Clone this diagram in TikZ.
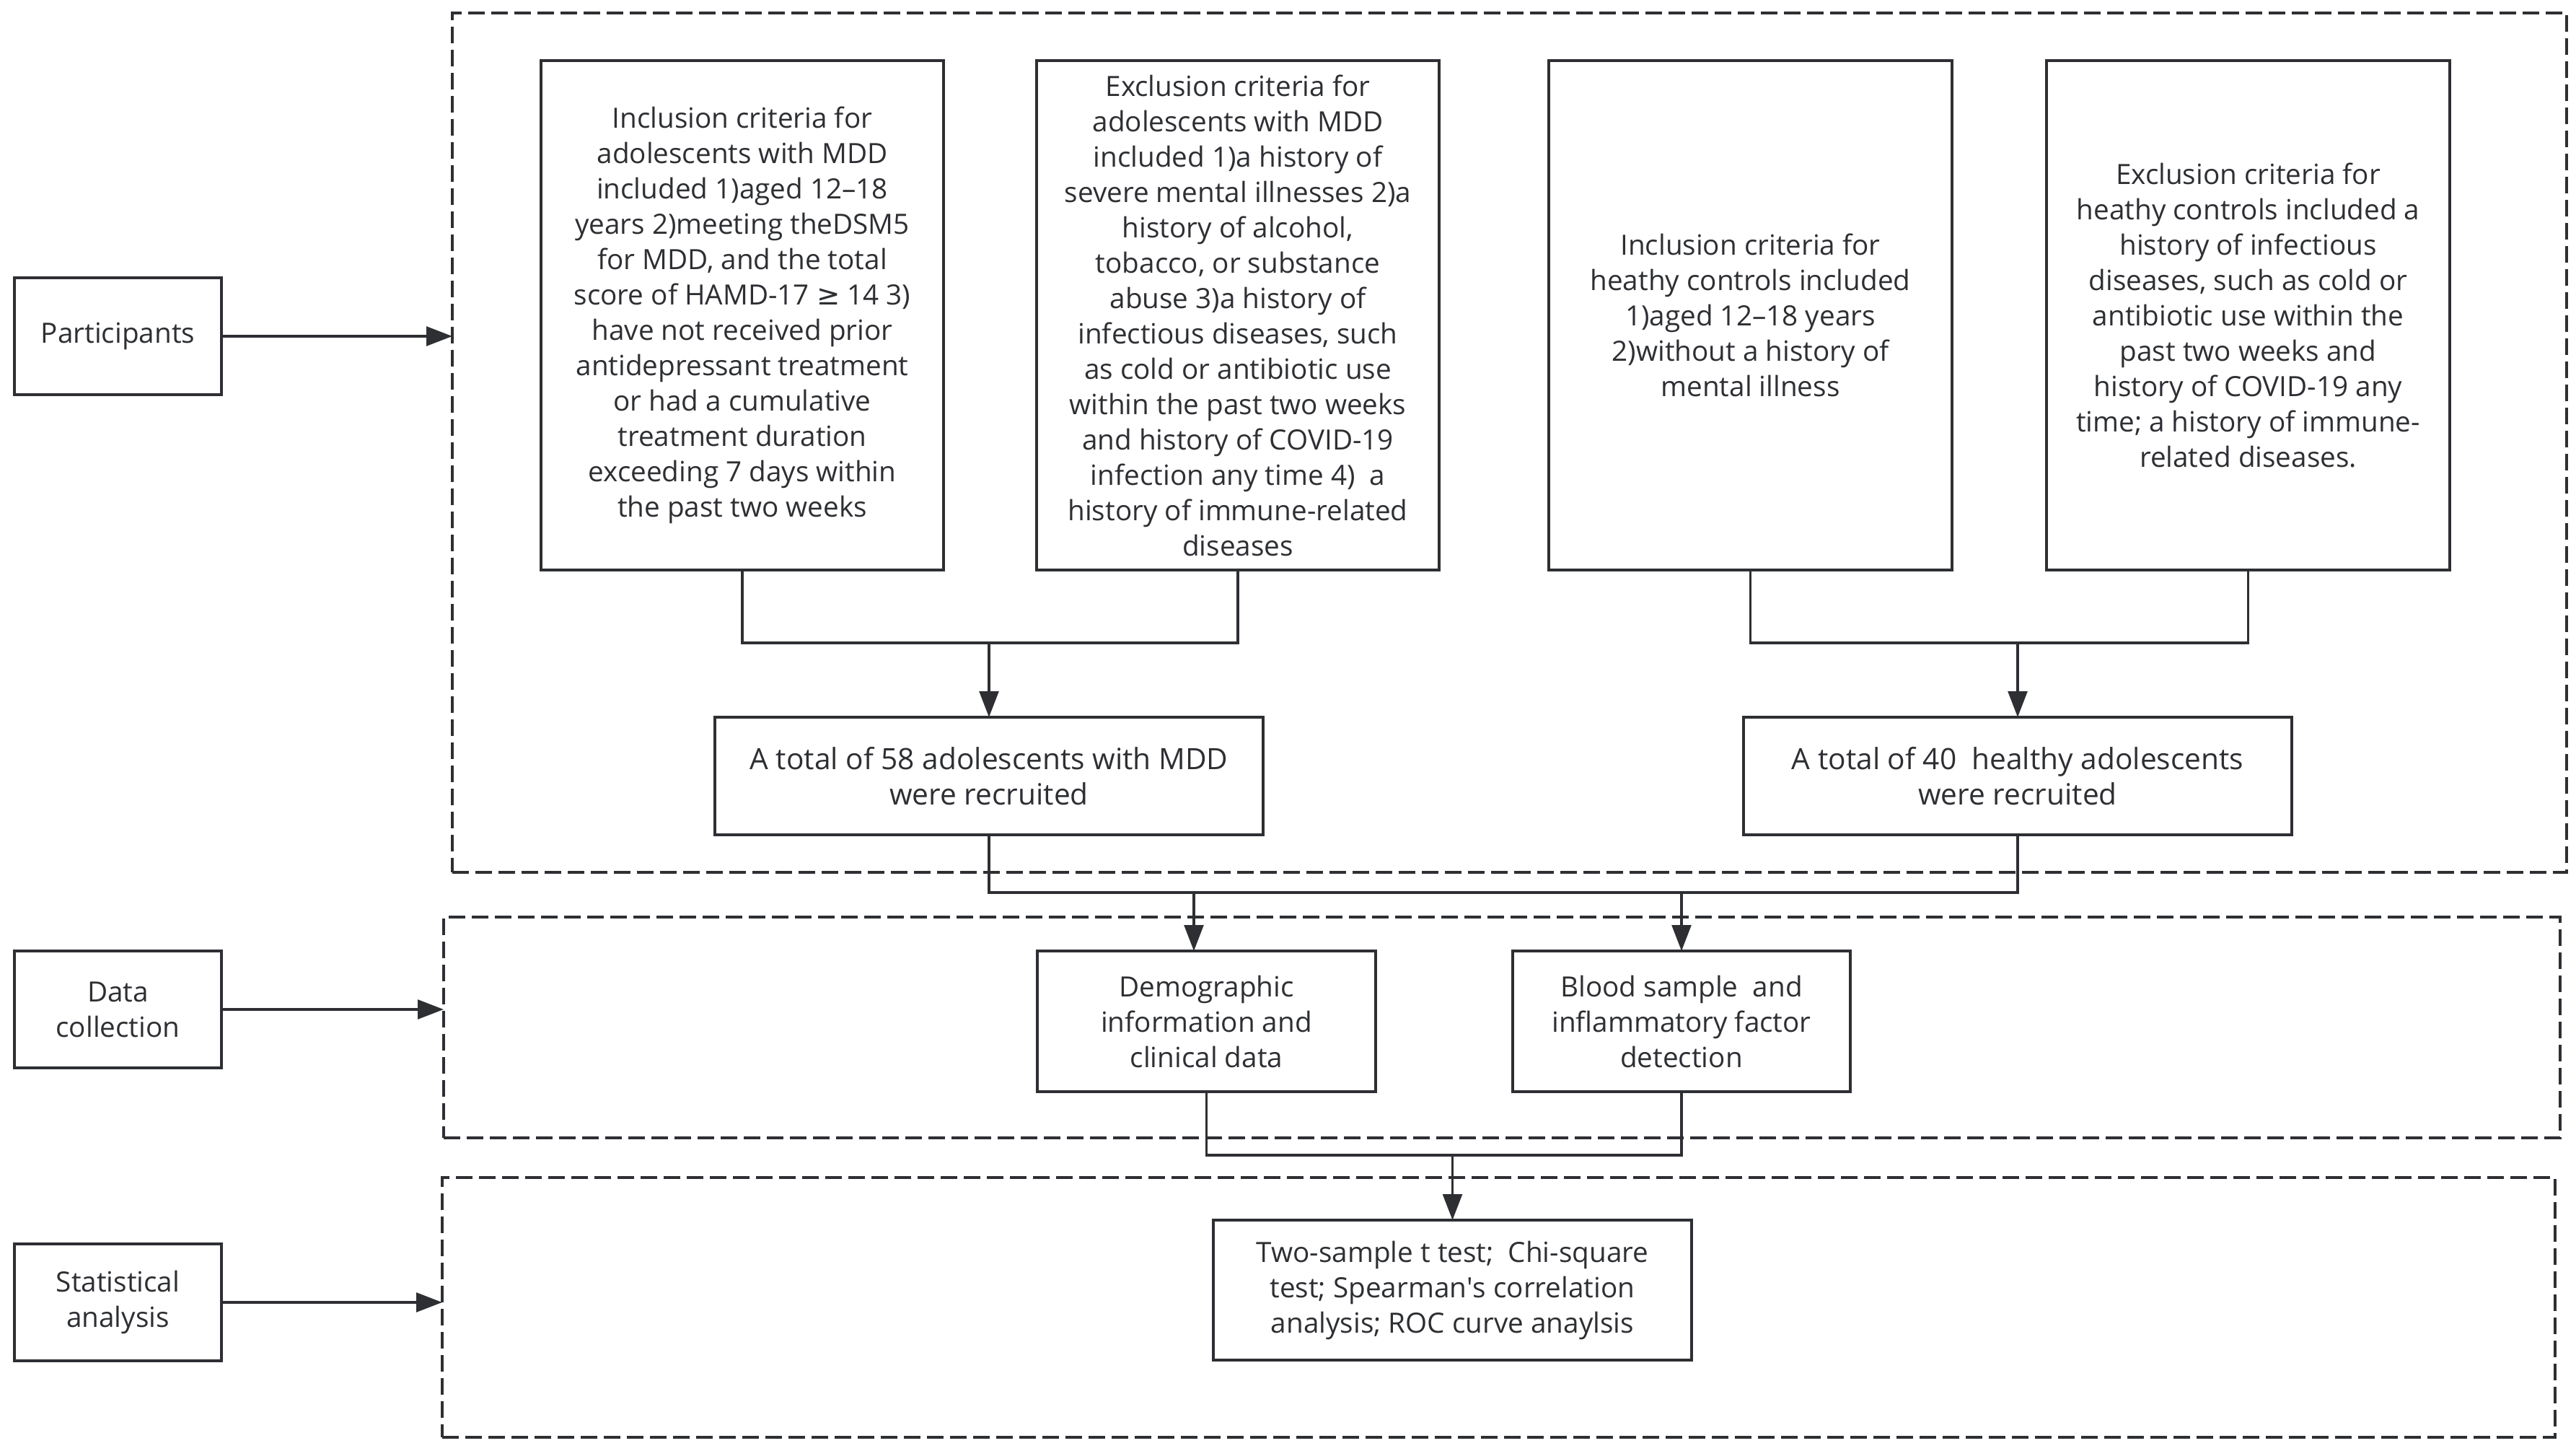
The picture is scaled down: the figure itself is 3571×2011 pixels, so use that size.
\documentclass[tikz,border=0pt]{standalone}
\usepackage{fontspec}
\setmainfont{Open Sans}
\newfontfamily\symfont{DejaVu Sans}
\newcommand{\sq}{{\addfontfeatures{Ligatures=TeXOff}'}}
\usetikzlibrary{arrows.meta}
\definecolor{dk}{RGB}{45,47,51}
\newcommand{\mainsz}{\fontsize{11.6}{14.7}\selectfont}
\newcommand{\bigsz}{\fontsize{12.2}{14.7}\selectfont}
\newcommand{\lblsz}{\fontsize{11.6}{14.7}\selectfont}
\begin{document}
\begin{tikzpicture}[x=0.3pt,y=-0.3pt,
  every node/.style={inner sep=0pt,outer sep=0pt},
  bx/.style={draw=dk,line width=1.2pt,fill=white,align=center,text=dk,font=\mainsz},
  bigbx/.style={bx,font=\bigsz},
  lbl/.style={bx,font=\lblsz},
  dbox/.style={draw=dk,line width=1.2pt,dash pattern=on 6.9pt off 2.7pt},
  conn/.style={draw=dk,line width=1.1pt},
  arr/.style={conn,-{Triangle[length=10.8pt,width=8pt]}},
  sz/.style 2 args={minimum width=#1*0.3pt,minimum height=#2*0.3pt}]
\useasboundingbox (0,0) rectangle (3571,2011);
% dashed group frames
\node[dbox,sz={2931}{1191}] (P) at (2092.5,613.5) {};
\node[dbox,sz={2934}{306}] (Dc) at (2082,1424) {};
\node[dbox,sz={2929}{360}] (Sa) at (2077.5,1812) {};
% stage labels
\node[lbl,sz={287}{162}] (L1) at (163.5,466) {Participants};
\node[lbl,sz={287}{162}] (L2) at (163.5,1399) {Data\\collection};
\node[lbl,sz={287}{162}] (L3) at (163.5,1805) {Statistical\\analysis};
% criteria boxes
\node[bx,sz={558}{706}] (A) at (1029,437) {Inclusion criteria for\\adolescents with MDD\\included 1)aged 12--18\\years 2)meeting theDSM5\\for MDD, and the total\\score of HAMD-17 {\symfont ≥} 14 3)\\have not received prior\\antidepressant treatment\\or had a cumulative\\treatment duration\\exceeding 7 days within\\the past two weeks};
\node[bx,sz={558}{706}] (B) at (1716,437) {Exclusion criteria for\\adolescents with MDD\\included 1)a history of\\severe mental illnesses 2)a\\history of alcohol,\\tobacco, or substance\\abuse 3)a history of\\infectious diseases, such\\as cold or antibiotic use\\within the past two weeks\\and history of COVID-19\\infection any time 4)~ a\\history of immune-related\\diseases};
\node[bx,sz={559}{706}] (C) at (2426.5,437) {Inclusion criteria for\\heathy controls included\\1)aged 12--18 years\\2)without a history of\\mental illness};
\node[bx,sz={559}{706}] (D) at (3116.5,437) {Exclusion criteria for\\heathy controls included a\\history of infectious\\diseases, such as cold or\\antibiotic use within the\\past two weeks and\\history of COVID-19 any\\time; a history of immune-\\related diseases.};
% recruited
\node[bigbx,sz={760}{163}] (E) at (1371,1075.5) {A total of 58 adolescents with MDD\\were recruited};
\node[bigbx,sz={760}{163}] (F) at (2797,1075.5) {A total of 40~ healthy adolescents\\were recruited};
% data collection
\node[bx,sz={469}{195}] (G) at (1672.5,1415.5) {Demographic\\information and\\clinical data};
\node[bx,sz={468}{195}] (H) at (2331,1415.5) {Blood sample~ and\\inflammatory factor\\detection};
% analysis
\node[bx,sz={663}{194}] (I) at (2013.5,1788) {Two-sample t test;~ Chi-square\\test; Spearman\sq s correlation\\analysis; ROC curve anaylsis};
% junction points
\coordinate (j1) at (1371,891);
\coordinate (j2) at (2797,891);
\coordinate (j3) at (2084,1237);
\coordinate (g1) at (1655,1237);
\coordinate (h1) at (2331,1237);
\coordinate (m) at (2013.5,1601);
% connectors
\draw[arr] (L1.east) -- (L1.east -| P.west);
\draw[arr] (L2.east) -- (L2.east -| Dc.west);
\draw[arr] (L3.east) -- (L3.east -| Sa.west);
\draw[conn] (A.south) |- (j1) -| (B.south);
\draw[arr] (j1) -- (E.north);
\draw[conn] (C.south) |- (j2) -| (D.south);
\draw[arr] (j2) -- (F.north);
\draw[conn] (E.south) |- (j3) -| (F.south);
\draw[arr] (g1) -- (g1 |- G.north);
\draw[arr] (h1) -- (H.north);
\draw[conn] (G.south) |- (m) -| (H.south);
\draw[arr] (m) -- (I.north);
\end{tikzpicture}
\end{document}
